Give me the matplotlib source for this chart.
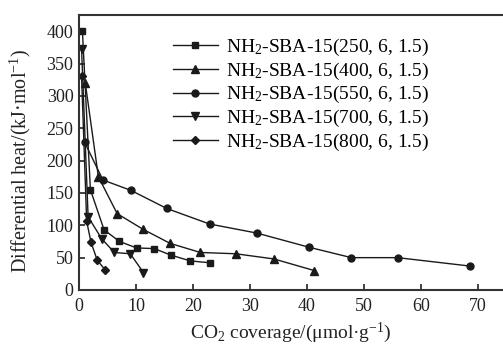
import matplotlib
matplotlib.use("Agg")
import matplotlib.pyplot as plt

plt.rcParams['font.family'] = ['Liberation Serif', 'DejaVu Serif']
plt.rcParams['mathtext.fontset'] = 'custom'
plt.rcParams['mathtext.rm'] = 'Liberation Serif'
plt.rcParams['mathtext.default'] = 'regular'

labels = [r'NH$_2$-SBA-15(250, 6, 1.5)', r'NH$_2$-SBA-15(400, 6, 1.5)',
          r'NH$_2$-SBA-15(550, 6, 1.5)', r'NH$_2$-SBA-15(700, 6, 1.5)',
          r'NH$_2$-SBA-15(800, 6, 1.5)']

x250 = [0.6, 2.0, 4.4, 7.1, 10.1, 13.2, 16.1, 19.5, 23.0]
y250 = [400, 155, 93, 75, 65, 64, 54, 45, 42]

x400 = [1.1, 3.4, 6.7, 11.2, 16.0, 21.3, 27.5, 34.2, 41.3]
y400 = [320, 175, 118, 94, 72, 58, 56, 48, 30]

x550 = [1.0, 4.2, 9.1, 15.4, 22.9, 31.2, 40.4, 47.8, 55.9, 68.6]
y550 = [228, 170, 154, 126, 102, 88, 66, 50, 50, 37]

x700 = [0.45, 1.6, 4.0, 6.2, 9.0, 11.3]
y700 = [373, 113, 79, 58, 56, 27]

x800 = [0.45, 1.35, 2.1, 3.2, 4.6]
y800 = [330, 106, 74, 46, 31]

xticks = [0, 10, 20, 30, 40, 50, 60, 70]
yticks = [0, 50, 100, 150, 200, 250, 300, 350, 400]

fig = plt.figure(figsize=(5.03, 3.44), dpi=100)
ax = fig.add_axes([79/503, 54/344, 1 - 79/503, 275/344])

c = '#1a1a1a'
ax.plot(x250, y250, '-s', color=c, lw=1.0, ms=5, label=labels[0])
ax.plot(x400, y400, '-^', color=c, lw=1.0, ms=5.5, label=labels[1])
ax.plot(x550, y550, '-o', color=c, lw=1.0, ms=5, label=labels[2])
ax.plot(x700, y700, '-v', color=c, lw=1.0, ms=5.5, label=labels[3])
ax.plot(x800, y800, '-D', color=c, lw=1.0, ms=4.5, label=labels[4])

ax.set_xlim(0, 74.4)
ax.set_ylim(0, 425)
ax.set_xticks(xticks)
ax.set_yticks(yticks)
ax.tick_params(direction='in', length=4, width=1.2, labelsize=13, colors='#222222')
ax.tick_params(axis='x', pad=6)
ax.tick_params(axis='y', pad=4)
for s in ['left', 'bottom', 'top']:
    ax.spines[s].set_linewidth(1.5)
    ax.spines[s].set_color('#333333')
ax.spines['right'].set_visible(False)

ax.set_xlabel(r'CO$_2$ coverage/(μmol·g$^{-1}$)', fontsize=14, color='#222222', labelpad=4)
ax.set_ylabel(r'Differential heat/(kJ·mol$^{-1}$)', fontsize=14.5, color='#222222')
ax.yaxis.set_label_coords(-0.108, 0.47)

leg = ax.legend(loc='upper left', bbox_to_anchor=(173/503, 1 - 37/344),
                bbox_transform=fig.transFigure, frameon=False, fontsize=14,
                handlelength=2.3, handletextpad=0.45, labelspacing=0.13,
                borderpad=0, borderaxespad=0)

fig.savefig('out.png', dpi=100)
